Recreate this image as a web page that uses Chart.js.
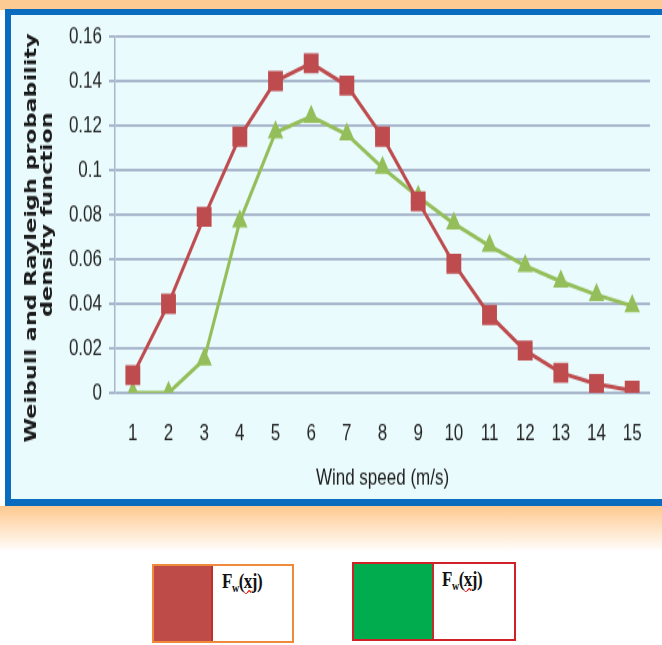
<!DOCTYPE html>
<html>
<head>
<meta charset="utf-8">
<script src="https://cdn.jsdelivr.net/npm/chart.js@4.4.1/dist/chart.umd.min.js"></script>
<style>
  html, body { margin: 0; padding: 0; background: #fff; }
  body { width: 662px; height: 645px; position: relative; overflow: hidden; }
  #topband { position: absolute; left: 0; top: 0; width: 662px; height: 10px; background: #FCCB93; }
  #frame { position: absolute; left: 5px; top: 9px; width: 670px; height: 484px;
           border: 6px solid #0A6CBE; border-bottom-width: 8px; background: #E9FBFD; }
  #glow { position: absolute; left: 0; top: 506px; width: 662px; height: 46px;
          background: linear-gradient(#FEC98E, #FFFFFF); }
  /* the chart is drawn on a shorter canvas and stretched vertically */
  #chartwrap { position: absolute; left: 0; top: 0; width: 662px; height: 478px;
               transform: scaleY(1.35); transform-origin: 0 0; }
  .key { position: absolute; background: #fff; box-sizing: border-box; }
  .key .swatch { position: absolute; left: 0; top: 0; bottom: 0; }
  .key .label { position: absolute; top: 3px; font-family: "Liberation Serif", "DejaVu Serif", serif;
                font-weight: bold; font-size: 17px; color: #111; letter-spacing: -0.5px;
                transform: scaleY(1.25); transform-origin: 0 0; }
  .key .label sub { font-size: 10px; vertical-align: -3px; }
  .key .label .sp { text-decoration: underline wavy #E02020; text-decoration-thickness: 1px; }
</style>
</head>
<body>
<div id="topband"></div>
<div id="frame"></div>
<div id="glow"></div>
<div id="chartwrap"><canvas id="c" width="662" height="478"></canvas></div>

<div class="key" style="left:152px; top:564px; width:142px; height:79px; border:2px solid #EE8A3A;">
  <div class="swatch" style="width:57px; background:#BE4B48; border-right:2px solid #C0302B;"></div>
  <div class="label" style="left:68px;">F<sub>w</sub>(<span class="sp">xj</span>)</div>
</div>
<div class="key" style="left:352px; top:562px; width:164px; height:79px; border:2px solid #D0202A;">
  <div class="swatch" style="width:78px; background:#00AC4E; border-right:2px solid #C0302B;"></div>
  <div class="label" style="left:88px;">F<sub>w</sub>(<span class="sp">xj</span>)</div>
</div>

<script>
// Wind speed classes (m/s)
const windSpeeds = ['1','2','3','4','5','6','7','8','9','10','11','12','13','14','15'];

// Weibull probability density per wind speed
const weibullPdf = [0.008, 0.040, 0.079, 0.115, 0.140, 0.148, 0.138, 0.115, 0.086, 0.058, 0.035, 0.019, 0.009, 0.004, 0.001];

// Rayleigh probability density per wind speed
const rayleighPdf = [0.000, 0.000, 0.015, 0.077, 0.117, 0.124, 0.116, 0.101, 0.088, 0.076, 0.066, 0.057, 0.050, 0.044, 0.039];

// Y-axis tick labels
const yTickValues = [0, 0.02, 0.04, 0.06, 0.08, 0.1, 0.12, 0.14, 0.16];
const yTickLabels = ['0', '0.02', '0.04', '0.06', '0.08', '0.1', '0.12', '0.14', '0.16'];

const tickFont = { family: '"Liberation Sans", Arial, sans-serif', size: 17 };
const gridColor = '#A9B6CC';

new Chart(document.getElementById('c'), {
  type: 'line',
  data: {
    labels: windSpeeds,
    datasets: [
      {
        label: 'Weibull',
        data: weibullPdf,
        borderColor: '#BE4B4E',
        backgroundColor: '#BE4B4E',
        borderWidth: 3,
        pointStyle: 'rect',
        pointRadius: 10.5,
        pointBorderWidth: 0,
        tension: 0
      },
      {
        label: 'Rayleigh',
        data: rayleighPdf,
        borderColor: '#94BE59',
        backgroundColor: '#94BE59',
        borderWidth: 3,
        pointStyle: 'triangle',
        pointRadius: 9,
        pointBorderWidth: 0,
        tension: 0
      }
    ]
  },
  options: {
    responsive: false,
    animation: false,
    layout: { padding: { top: 27, left: 24, right: 3, bottom: 113 } },
    plugins: { legend: { display: false }, tooltip: { enabled: false } },
    scales: {
      x: {
        offset: true,
        grid: { display: false, drawTicks: false },
        border: { display: false },
        ticks: { font: tickFont, color: '#262626', padding: 20, maxRotation: 0, autoSkip: false },
        title: {
          display: true,
          text: 'Wind speed (m/s)',
          font: { family: '"Liberation Sans", Arial, sans-serif', size: 17 },
          color: '#1E1E1E',
          padding: { top: 12, bottom: 0 }
        },
        afterFit: (s) => { s.height = 74; }
      },
      y: {
        min: 0,
        max: 0.16,
        afterBuildTicks: (s) => { s.ticks = yTickValues.map(v => ({ value: v })); },
        grid: { color: gridColor, lineWidth: 2, tickLength: 6, tickColor: gridColor },
        border: { display: true, color: gridColor, width: 1.5 },
        ticks: {
          font: tickFont,
          color: '#262626',
          padding: 7,
          callback: (v) => { const i = yTickValues.findIndex(t => Math.abs(t - v) < 1e-9); return i >= 0 ? yTickLabels[i] : ''; }
        },
        title: {
          display: true,
          // trailing spaces keep the first line lower along the axis
          text: ['Weibull and Rayleigh probability      ', 'density function'],
          font: { family: '"DejaVu Sans", Verdana, sans-serif', size: 16.5, weight: 'bold', lineHeight: 0.95 },
          color: '#1A1A1A',
          padding: { top: 0, bottom: 2 }
        },
        afterFit: (s) => { s.width = 91; }
      }
    }
  }
});
</script>
</body>
</html>
